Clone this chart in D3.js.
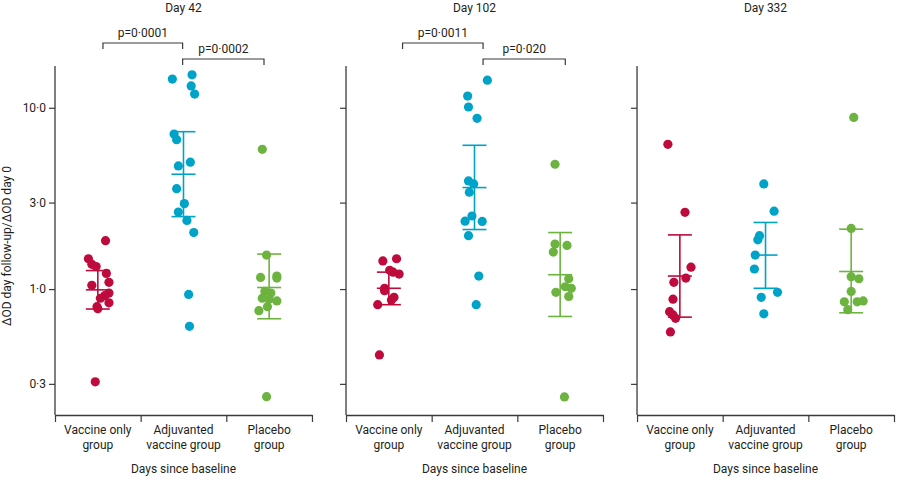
<!DOCTYPE html>
<html>
<head>
<meta charset="utf-8">
<script src="https://cdn.jsdelivr.net/npm/d3@7"></script>
<style>
  html, body { margin: 0; padding: 0; background: #fff; }
  svg { display: block; font-family: Roboto, "Open Sans", sans-serif; }
</style>
</head>
<body>
<svg id="chart" width="897" height="480"></svg>
<script>
// ---------- data ----------
const panels = ["Day 42", "Day 102", "Day 332"];
const groups = ["Vaccine only group", "Adjuvanted vaccine group", "Placebo group"];
const groupLabels = [["Vaccine only", "group"], ["Adjuvanted", "vaccine group"], ["Placebo", "group"]];
const groupColors = ["#BE0A3C", "#00A3C8", "#6DB33F"];
const yTicks = [0.3, 1, 3, 10];
const yTickLabels = ["0·3", "1·0", "3·0", "10·0"];

// each point: [ratio value, horizontal jitter (fraction of group width)]
const day42Vaccine = [[1.85,0.09],[1.47,-0.11],[1.37,-0.07],[1.33,-0.02],[1.22,0.10],[1.09,0.13],[1.05,-0.07],[0.95,0.13],[0.92,0.08],[0.89,0.03],[0.84,0.13],[0.80,-0.01],[0.78,0.00],[0.308,-0.03]];
const day42Adjuvant = [[14.4,-0.13],[15.2,0.10],[13.2,0.09],[11.9,0.13],[7.16,-0.11],[6.67,-0.08],[4.78,-0.06],[5.01,0.08],[3.58,-0.08],[2.96,0.01],[2.66,-0.06],[2.39,0.04],[2.05,0.12],[0.934,0.06],[0.623,0.07]];
const day42Placebo = [[5.90,-0.08],[1.54,-0.03],[1.16,-0.10],[1.18,0.09],[1.15,0.09],[0.97,-0.05],[0.95,0.02],[0.89,-0.08],[0.88,0.00],[0.86,0.09],[0.76,-0.12],[0.80,-0.02],[0.255,-0.03]];

const day102Vaccine = [[1.43,-0.07],[1.47,0.09],[1.27,0.01],[1.24,0.05],[1.21,0.12],[1.01,-0.05],[0.98,-0.05],[0.90,0.06],[0.87,0.03],[0.82,-0.13],[0.433,-0.11]];
const day102Adjuvant = [[14.2,0.15],[11.6,-0.08],[10.1,-0.07],[8.75,0.03],[3.95,-0.07],[3.80,-0.01],[3.42,-0.06],[2.53,-0.03],[2.37,-0.11],[2.36,0.09],[1.97,-0.07],[1.18,0.05],[0.82,0.02]];
const day102Placebo = [[4.88,-0.06],[1.77,-0.06],[1.74,0.08],[1.60,-0.08],[1.14,0.10],[1.03,0.06],[1.01,0.13],[0.96,-0.05],[0.91,0.10],[0.254,0.05]];

const day332Vaccine = [[6.29,-0.14],[2.65,0.06],[1.32,0.13],[1.15,0.07],[1.09,-0.07],[0.88,-0.08],[0.75,-0.12],[0.72,-0.08],[0.69,-0.05],[0.58,-0.11]];
const day332Adjuvant = [[3.80,-0.02],[2.69,0.10],[1.97,-0.07],[1.87,-0.09],[1.54,-0.12],[1.29,-0.13],[0.96,0.14],[0.90,-0.05],[0.73,-0.02]];
const day332Placebo = [[8.85,0.03],[2.16,0.00],[1.17,0.00],[1.14,0.09],[0.97,0.00],[0.85,-0.08],[0.85,0.07],[0.86,0.14],[0.77,-0.04]];

// error bars per group: [mean, lower, upper]
const day42Stats = [[0.99,0.776,1.265],[4.30,2.51,7.38],[1.02,0.686,1.56]];
const day102Stats = [[1.01,0.82,1.24],[3.63,2.13,6.21],[1.20,0.706,2.05]];
const day332Stats = [[1.18,0.70,1.99],[1.54,1.01,2.33],[1.25,0.74,2.14]];

// significance brackets: [panel, from position, to position, label] (positions in group units, 0 = first group)
const brackets = [
  ["Day 42", 0.06, 0.99, "p=0·0001", 0],
  ["Day 42", 0.99, 1.94, "p=0·0002", 1],
  ["Day 102", 0.16, 1.10, "p=0·0011", 0],
  ["Day 102", 1.10, 2.06, "p=0·020", 1]
];

const panelPoints = {
  "Day 42": [day42Vaccine, day42Adjuvant, day42Placebo],
  "Day 102": [day102Vaccine, day102Adjuvant, day102Placebo],
  "Day 332": [day332Vaccine, day332Adjuvant, day332Placebo]
};
const panelStats = { "Day 42": day42Stats, "Day 102": day102Stats, "Day 332": day332Stats };

// ---------- layout ----------
const svg = d3.select("#chart");
const textColor = "#231F20";
const axisColor = "#3a3a3a";
const plotTop = 66, plotBottom = 415;

const px = d3.scaleBand().domain(panels).range([55, 894]).paddingInner(0.117);
const y = d3.scaleLog().domain([0.202, 17]).range([plotBottom, plotTop]);

panels.forEach((p, pi) => {
  const x0 = px(p), x1 = px(p) + px.bandwidth();
  const g = svg.append("g");
  const xb = d3.scaleBand().domain(groups).range([x0, x1]);
  const bw = xb.bandwidth();
  const xc = gi => xb(groups[gi]) + bw / 2;
  const xl = d3.scaleLinear().domain([0, 3]).range([x0, x1]);

  // y axis
  const yAxis = d3.axisLeft(y).tickValues(yTicks)
    .tickFormat(pi === 0 ? ((d, i) => yTickLabels[i]) : () => "")
    .tickSizeInner(6).tickSizeOuter(0).tickPadding(3);
  const ya = g.append("g").attr("transform", `translate(${x0},0)`).call(yAxis);
  ya.select(".domain").attr("stroke", axisColor).attr("stroke-width", 1.3)
    .attr("d", `M0,${plotTop}V${plotBottom}`);
  ya.selectAll(".tick line").attr("stroke", axisColor).attr("stroke-width", 1.2);
  ya.selectAll(".tick text").attr("fill", textColor).style("font-size", "12px")
    .style("font-family", "Roboto, sans-serif");

  // x axis
  const xAxis = d3.axisBottom(xl).tickValues([0, 1, 2, 3]).tickFormat(() => "")
    .tickSizeInner(7).tickSizeOuter(0);
  const xa = g.append("g").attr("transform", `translate(0,${plotBottom})`).call(xAxis);
  xa.select(".domain").attr("stroke", axisColor).attr("stroke-width", 1.3);
  xa.selectAll(".tick line").attr("stroke", axisColor).attr("stroke-width", 1.2);

  // group labels
  groupLabels.forEach((lines, gi) => {
    const t = g.append("text").attr("x", xc(gi)).attr("y", 434)
      .attr("text-anchor", "middle").attr("fill", textColor)
      .style("font-size", "12px");
    lines.forEach((ln, li) => {
      t.append("tspan").attr("x", xc(gi)).attr("dy", li === 0 ? 0 : 15).text(ln);
    });
  });

  // x title
  g.append("text").attr("x", (x0 + x1) / 2).attr("y", 473)
    .attr("text-anchor", "middle").attr("fill", textColor)
    .style("font-size", "12px").text("Days since baseline");

  // panel title
  g.append("text").attr("x", (x0 + x1) / 2).attr("y", 12)
    .attr("text-anchor", "middle").attr("fill", textColor)
    .style("font-size", "12px").text(p);

  // points
  panelPoints[p].forEach((pts, gi) => {
    g.append("g").selectAll("circle").data(pts).join("circle")
      .attr("cx", d => xc(gi) + d[1] * bw)
      .attr("cy", d => y(d[0]))
      .attr("r", 4.6)
      .attr("fill", groupColors[gi]);
  });

  // error bars
  panelStats[p].forEach((s, gi) => {
    const cx = xc(gi), col = groupColors[gi], hw = 12;
    const eb = g.append("g").attr("stroke", col).attr("stroke-width", 1.6);
    eb.append("line").attr("x1", cx).attr("x2", cx).attr("y1", y(s[1])).attr("y2", y(s[2]));
    [s[0], s[1], s[2]].forEach(v => {
      eb.append("line").attr("x1", cx - hw).attr("x2", cx + hw).attr("y1", y(v)).attr("y2", y(v));
    });
  });

  // brackets
  brackets.filter(b => b[0] === p).forEach(b => {
    const bx1 = xl(b[1] + 0.5), bx2 = xl(b[2] + 0.5);
    const by = b[4] === 0 ? 43 : 59;
    g.append("path")
      .attr("d", `M${bx1},${by + 6}V${by}H${bx2}V${by + 6}`)
      .attr("fill", "none").attr("stroke", axisColor).attr("stroke-width", 1.2);
    g.append("text").attr("x", (bx1 + bx2) / 2).attr("y", by - 6)
      .attr("text-anchor", "middle").attr("fill", textColor)
      .style("font-size", "12px").text(b[3]);
  });
});

// y axis title
svg.append("text")
  .attr("transform", "translate(11,246) rotate(-90)")
  .attr("text-anchor", "middle").attr("fill", textColor)
  .style("font-size", "12px")
  .text("ΔOD day follow-up/ΔOD day 0");
</script>
</body>
</html>
